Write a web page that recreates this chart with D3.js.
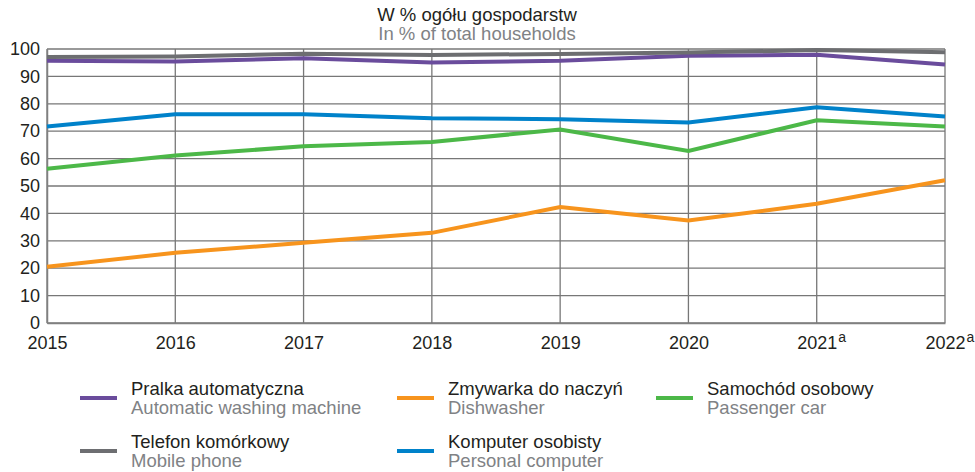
<!DOCTYPE html>
<html>
<head>
<meta charset="utf-8">
<script src="https://cdn.jsdelivr.net/npm/d3@7"></script>
<style>
  body { margin: 0; background: #fff; }
  svg { font-family: "Liberation Sans", Arial, sans-serif; }
</style>
</head>
<body>
<svg id="chart" width="975" height="472"></svg>
<script>
var years = ["2015", "2016", "2017", "2018", "2019", "2020", "2021", "2022"];
var yearNotes = ["", "", "", "", "", "", "a", "a"];
var yTicks = [0, 10, 20, 30, 40, 50, 60, 70, 80, 90, 100];

var mobilePhone = [97.1, 97.3, 98.3, 97.8, 98.2, 98.7, 99.6, 98.8];
var washingMachine = [95.7, 95.4, 96.6, 95.1, 95.7, 97.5, 97.9, 94.3];
var personalComputer = [71.7, 76.2, 76.2, 74.7, 74.4, 73.2, 78.7, 75.4];
var passengerCar = [56.3, 61.1, 64.5, 66.1, 70.6, 62.8, 74.0, 71.7];
var dishwasher = [20.5, 25.6, 29.3, 32.9, 42.3, 37.4, 43.5, 52.1];

var seriesNamesPl = ["Telefon komórkowy", "Pralka automatyczna", "Komputer osobisty", "Samochód osobowy", "Zmywarka do naczyń"];
var seriesNamesEn = ["Mobile phone", "Automatic washing machine", "Personal computer", "Passenger car", "Dishwasher"];
var seriesColors = ["#6d6e71", "#6a4c9c", "#0082ca", "#4cb848", "#f7941d"];
var seriesValues = [mobilePhone, washingMachine, personalComputer, passengerCar, dishwasher];

var svg = d3.select("#chart"),
    margin = {top: 49, right: 30, bottom: 149, left: 47},
    width = +svg.attr("width") - margin.left - margin.right,
    height = +svg.attr("height") - margin.top - margin.bottom,
    g = svg.append("g").attr("transform", "translate(" + margin.left + "," + margin.top + ")");

var x = d3.scalePoint().domain(years).range([0, width]);
var y = d3.scaleLinear().domain([0, 100]).range([height, 0]);

// title, two languages
svg.append("text")
    .attr("x", 477)
    .attr("y", 21)
    .attr("text-anchor", "middle")
    .attr("font-size", 18.5)
    .attr("fill", "#231f20")
    .text("W % ogółu gospodarstw");
svg.append("text")
    .attr("x", 477)
    .attr("y", 40)
    .attr("text-anchor", "middle")
    .attr("font-size", 18.5)
    .attr("fill", "#808285")
    .text("In % of total households");

// grid
g.append("g")
  .selectAll("line")
  .data(yTicks)
  .enter().append("line")
    .attr("x1", 0)
    .attr("x2", width)
    .attr("y1", function(d) { return y(d); })
    .attr("y2", function(d) { return y(d); })
    .attr("stroke", "#777")
    .attr("stroke-width", 1.3);

g.append("g")
  .selectAll("line")
  .data(years)
  .enter().append("line")
    .attr("x1", function(d) { return x(d); })
    .attr("x2", function(d) { return x(d); })
    .attr("y1", 0)
    .attr("y2", height)
    .attr("stroke", "#777")
    .attr("stroke-width", 1.3);

// axes
var yAxis = g.append("g")
    .call(d3.axisLeft(y).tickValues(yTicks).tickSize(0).tickPadding(7));
yAxis.select(".domain").attr("stroke", "#808080").attr("stroke-width", 1.5);
yAxis.selectAll("text").attr("font-size", 18).attr("fill", "#231f20").attr("font-family", null);

var xAxis = g.append("g")
    .attr("transform", "translate(0," + height + ")")
    .call(d3.axisBottom(x).tickSize(0).tickPadding(13));
xAxis.select(".domain").attr("stroke", "#808080").attr("stroke-width", 1.5);
xAxis.selectAll("text").attr("font-size", 18).attr("fill", "#231f20").attr("font-family", null);
xAxis.selectAll(".tick").each(function(d, i) {
  if (!yearNotes[i]) return;
  var t = d3.select(this).select("text");
  var w = t.node().getComputedTextLength();
  d3.select(this).append("text")
      .attr("x", w / 2 + 1)
      .attr("y", 9)
      .attr("dy", "0.71em")
      .attr("font-size", 14)
      .attr("fill", "#231f20")
      .attr("text-anchor", "start")
      .text(yearNotes[i]);
});

// lines
var line = d3.line()
    .x(function(d, i) { return x(years[i]); })
    .y(function(d) { return y(d); });

g.append("g")
  .selectAll("path")
  .data(seriesValues.slice().reverse())
  .enter().append("path")
    .attr("fill", "none")
    .attr("stroke", function(d, i) { return seriesColors[seriesColors.length - 1 - i]; })
    .attr("stroke-width", 4)
    .attr("d", line);

// legend
var legendOrder = [1, 4, 3, 0, 2];
var legendPos = [[80, 398], [397, 398], [656, 398], [80, 451], [397, 451]];

var legend = svg.append("g")
  .selectAll("g")
  .data(legendOrder)
  .enter().append("g")
    .attr("transform", function(d, i) { return "translate(" + legendPos[i][0] + "," + legendPos[i][1] + ")"; });

legend.append("line")
    .attr("x1", 0)
    .attr("x2", 37)
    .attr("stroke", function(d) { return seriesColors[d]; })
    .attr("stroke-width", 4);

legend.append("text")
    .attr("x", 51)
    .attr("y", -3)
    .attr("font-size", 18.5)
    .attr("fill", "#231f20")
    .text(function(d) { return seriesNamesPl[d]; });

legend.append("text")
    .attr("x", 51)
    .attr("y", 16)
    .attr("font-size", 18.5)
    .attr("fill", "#808285")
    .text(function(d) { return seriesNamesEn[d]; });
</script>
</body>
</html>
